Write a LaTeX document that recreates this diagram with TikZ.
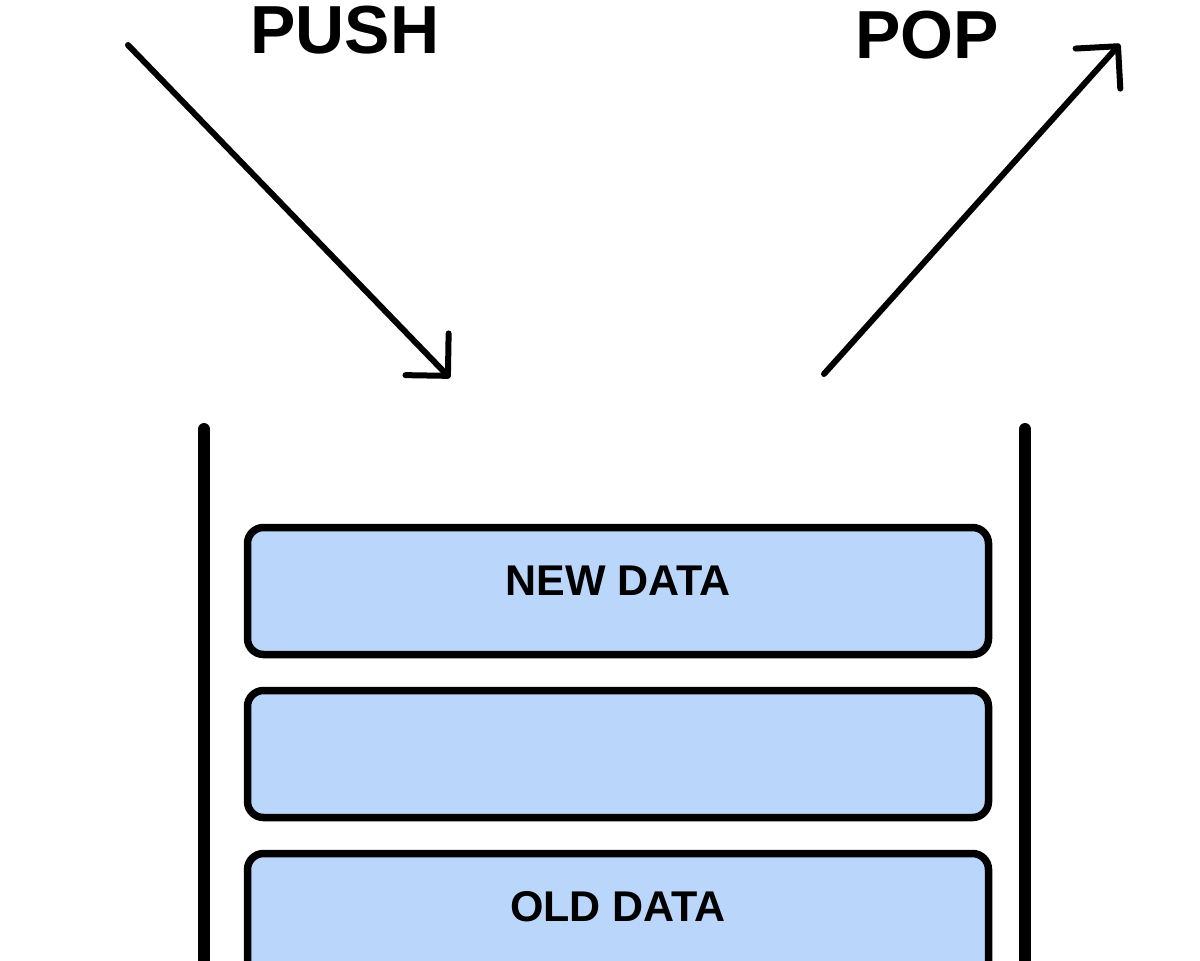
\documentclass[tikz,border=0pt]{standalone}
\usepackage{fontspec}
\setmainfont{Liberation Sans}
\usetikzlibrary{arrows.meta}
\definecolor{cellblue}{RGB}{187,214,251}
\begin{document}
\begin{tikzpicture}[x=0.5pt,y=-0.5pt,
  cell/.style={draw=black, line width=3.75pt, fill=cellblue, rounded corners=8pt,
    minimum width=370.5pt, minimum height=63.5pt, inner sep=0pt},
  celltext/.style={anchor=base, inner sep=0pt, font=\fontsize{21.5}{24}\selectfont\bfseries},
  title/.style={anchor=base west, inner sep=0pt, font=\fontsize{34}{38}\selectfont\bfseries},
  wall/.style={line width=6pt, line cap=round},
  flow/.style={line width=3pt, line cap=round,
    -{Straight Barb[length=15pt,width=30pt,round]}}]
  \useasboundingbox (0,0) rectangle (1200,960);

  % labels
  \node[title] (push) at (250,53) {PUSH};
  \node[title] (pop) at (855,58) {POP};

  % push / pop arrows
  \coordinate (pushfrom) at (128,45);
  \coordinate (pushto) at (450,378);
  \coordinate (popfrom) at (824,374);
  \coordinate (popto) at (1120,44);
  \draw[flow] (pushfrom) -- (pushto);
  \draw[flow] (popfrom) -- (popto);

  % stack walls
  \coordinate (lwtop) at (204,429);
  \coordinate (lwbot) at (204,1000);
  \coordinate (rwtop) at (1025,429);
  \coordinate (rwbot) at (1025,1000);
  \draw[wall] (lwtop) -- (lwbot);
  \draw[wall] (rwtop) -- (rwbot);

  % stack cells
  \node[cell] (b1) at (618,591) {};
  \node[cell] (b2) at (618,754) {};
  \node[cell] (b3) at (618,917) {};
  \node[celltext] (t1) at ([yshift=-2pt]b1.center) {NEW DATA};
  \node[celltext] (t3) at ([yshift=-2pt]b3.center) {OLD DATA};
\end{tikzpicture}
\end{document}
